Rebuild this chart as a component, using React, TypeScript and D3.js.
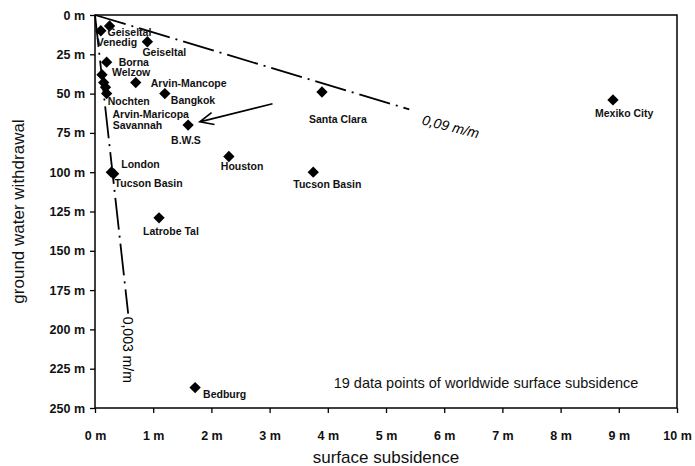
import React, { useEffect, useRef } from "react";
import * as d3 from "d3";

// sites, surface subsidence (m) and ground water withdrawal (m)
const sites = [
  "Geiseltal", "Venedig", "Geiseltal", "Borna", "Welzow", "Arvin-Mancope", "Bangkok",
  "Nochten", "Arvin-Maricopa", "Savannah", "B.W.S", "London", "Tucson Basin", "Houston",
  "Santa Clara", "Tucson Basin", "Mexiko City", "Latrobe Tal", "Bedburg",
];
const subsidence = [0.25, 0.1, 0.9, 0.2, 0.12, 0.7, 1.2, 0.15, 0.18, 0.2, 1.6, 0.28, 0.32, 2.3, 3.9, 3.75, 8.9, 1.1, 1.72];
const withdrawal = [7, 10, 17, 30, 38, 43, 50, 43, 46, 50, 70, 100, 101, 90, 49, 100, 54, 129, 237];

// where each site name sits relative to its marker (px)
const labelShift: [number, number][] = [
  [-2, 6], [-4, 12], [-5, 11], [12, 0], [10, -2], [15, 1], [6, 7],
  [4, 19], [7, 27], [6, 32], [-17, 15], [10, -8], [1, 10], [-8, 10],
  [-13, 27], [-20, 12], [-18, 13], [-16, 14], [8, 7],
];

const xTicks = [0, 1, 2, 3, 4, 5, 6, 7, 8, 9, 10];
const yTicks = [0, 25, 50, 75, 100, 125, 150, 175, 200, 225, 250];

// ratio lines subsidence / withdrawal
const ratios = [0.09, 0.003];
const ratioLabels = ["0,09 m/m", "0,003 m/m"];
const ratioEnds = [60, 190];

// arrow pointing at the B.W.S point
const arrowFrom = [3.05, 56.5];
const arrowTo = [1.8, 68];

const note = "19 data points of worldwide surface subsidence";

const W = 695;
const H = 466;
const FONT = "'Liberation Sans', Arial, sans-serif";

const SubsidenceChart = () => {
  const ref = useRef<SVGSVGElement | null>(null);

  useEffect(() => {
    if (!ref.current) return;
    const svg = d3.select(ref.current);
    svg.selectAll("*").remove();

    const x = d3.scaleLinear().domain([0, 10]).range([95, 677]);
    const y = d3.scaleLinear().domain([0, 250]).range([15, 408]);

    // frame
    svg
      .append("rect")
      .attr("x", x(0))
      .attr("y", y(0))
      .attr("width", x(10) - x(0))
      .attr("height", y(250) - y(0))
      .attr("fill", "none")
      .attr("stroke", "#000")
      .attr("stroke-width", 1.5);

    // axes
    const gx = svg
      .append("g")
      .attr("transform", `translate(0,${y(250)})`)
      .call(
        d3.axisBottom(x).tickValues(xTicks).tickFormat((d) => `${d} m`).tickSize(5).tickPadding(18)
      );
    const gy = svg
      .append("g")
      .attr("transform", `translate(${x(0)},0)`)
      .call(
        d3.axisLeft(y).tickValues(yTicks).tickFormat((d) => `${d} m`).tickSize(5).tickPadding(5)
      );
    [gx, gy].forEach((g) => {
      g.select(".domain").remove();
      g.selectAll(".tick line").attr("stroke", "#000").attr("stroke-width", 1.3);
      g.selectAll(".tick text")
        .attr("font-family", FONT)
        .attr("font-size", 12.5)
        .attr("font-weight", "bold")
        .attr("fill", "#111");
    });

    // ratio lines
    ratios.forEach((r, i) => {
      const end = ratioEnds[i];
      svg
        .append("line")
        .attr("x1", x(0))
        .attr("y1", y(0))
        .attr("x2", x(r * end))
        .attr("y2", y(end))
        .attr("stroke", "#000")
        .attr("stroke-width", 1.8)
        .attr("stroke-dasharray", "32 6 2 6");
    });
    svg
      .append("text")
      .attr("transform", `translate(${x(ratios[0] * ratioEnds[0]) + 12},${y(ratioEnds[0]) + 15}) rotate(14)`)
      .attr("font-family", FONT)
      .attr("font-size", 14)
      .attr("font-style", "italic")
      .text(ratioLabels[0]);
    svg
      .append("text")
      .attr("transform", `translate(${x(ratios[1] * ratioEnds[1])},${y(ratioEnds[1]) + 3}) rotate(90)`)
      .attr("font-family", FONT)
      .attr("font-size", 14)
      .attr("dy", "0.35em")
      .text(ratioLabels[1]);

    // arrow
    const ax1 = x(arrowFrom[0]);
    const ay1 = y(arrowFrom[1]);
    const ax2 = x(arrowTo[0]);
    const ay2 = y(arrowTo[1]);
    const ang = Math.atan2(ay1 - ay2, ax1 - ax2);
    svg
      .append("path")
      .attr(
        "d",
        `M${ax1},${ay1}L${ax2},${ay2}` +
          `M${ax2 + 15 * Math.cos(ang - 0.42)},${ay2 + 15 * Math.sin(ang - 0.42)}L${ax2},${ay2}` +
          `L${ax2 + 15 * Math.cos(ang + 0.42)},${ay2 + 15 * Math.sin(ang + 0.42)}`
      )
      .attr("fill", "none")
      .attr("stroke", "#000")
      .attr("stroke-width", 1.6);

    // points
    const diamond = d3.symbol().type(d3.symbolSquare).size(64);
    svg
      .selectAll(".pt")
      .data(sites)
      .enter()
      .append("path")
      .attr("class", "pt")
      .attr("d", diamond)
      .attr("transform", (d, i) => `translate(${x(subsidence[i])},${y(withdrawal[i])}) rotate(45)`)
      .attr("fill", "#000");

    svg
      .selectAll(".lbl")
      .data(sites)
      .enter()
      .append("text")
      .attr("class", "lbl")
      .attr("x", (d, i) => x(subsidence[i]) + labelShift[i][0])
      .attr("y", (d, i) => y(withdrawal[i]) + labelShift[i][1])
      .attr("dy", "0.35em")
      .attr("font-family", FONT)
      .attr("font-size", 10.5)
      .attr("font-weight", "bold")
      .attr("fill", "#111")
      .text((d) => d);

    // note
    svg
      .append("text")
      .attr("x", 486)
      .attr("y", 388)
      .attr("text-anchor", "middle")
      .attr("font-family", FONT)
      .attr("font-size", 14.5)
      .attr("fill", "#111")
      .text(note);

    // axis titles
    svg
      .append("text")
      .attr("x", (x(0) + x(10)) / 2)
      .attr("y", 463)
      .attr("text-anchor", "middle")
      .attr("font-family", FONT)
      .attr("font-size", 17)
      .attr("fill", "#111")
      .text("surface subsidence");
    svg
      .append("text")
      .attr("transform", `translate(24,${(y(0) + y(250)) / 2}) rotate(-90)`)
      .attr("text-anchor", "middle")
      .attr("font-family", FONT)
      .attr("font-size", 17)
      .attr("fill", "#111")
      .text("ground water withdrawal");
  }, []);

  return (
    <svg
      ref={ref}
      width={W}
      height={H}
      style={{ position: "absolute", left: 0, top: 0, background: "#fff" }}
    />
  );
};

export default function App() {
  return <SubsidenceChart />;
}
